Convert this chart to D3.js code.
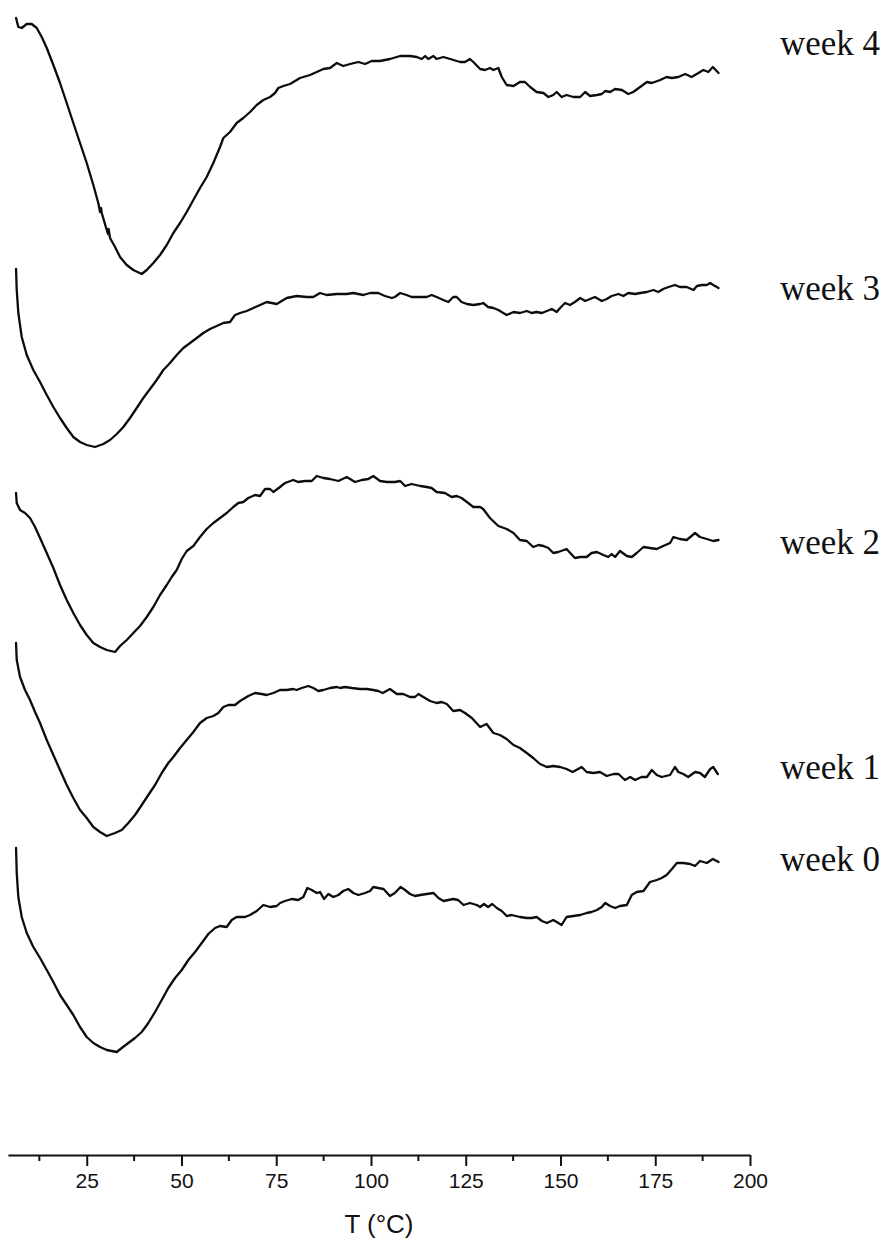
<!DOCTYPE html>
<html>
<head>
<meta charset="utf-8">
<script src="https://cdn.jsdelivr.net/npm/d3@7"></script>
<style>
  html, body { margin: 0; padding: 0; background: #fff; }
  svg { display: block; }
</style>
</head>
<body>
<svg id="chart" width="893" height="1242"></svg>
<script>
// DSC thermograms (endo down), curves shifted vertically for clarity.
// Each series: [temperature °C, heat flow (a.u., offset)]
const week4 = [
  [6.35,113.7],[6.95,112.8],[7.85,112.7],[9.17,113.1],[10.49,113.1],[11.81,112.7],[13.13,111.8],
  [14.45,110.7],[16.19,109.0],[17.95,107.2],[19.72,105.2],[21.46,103.2],[23.23,101.2],[25.0,99.2],
  [26.74,97.0],[28.05,95.2],[28.51,94.3],[28.78,94.7],[28.96,94.2],[30.28,92.5],[30.62,92.1],
  [30.76,92.6],[31.15,91.7],[32.47,90.8],[33.79,89.8],[35.55,89.0],[37.30,88.5],[39.51,88.1],
  [40.83,88.5],[42.57,89.2],[44.34,90.0],[46.11,91.0],[47.85,92.2],[49.62,93.2],[51.38,94.3],
  [53.13,95.5],[54.89,96.7],[56.65,97.8],[58.40,99.2],[60.17,100.8],[61.04,101.7],[62.81,102.3],
  [64.56,103.2],[66.31,103.7],[68.09,104.3],[69.85,105.0],[71.60,105.5],[73.36,105.8],[74.68,106.2],
  [75.55,106.7],[76.87,106.9],[78.64,107.1],[81.28,107.7],[83.92,108.0],[87.43,108.6],[89.20,108.7],
  [90.96,109.2],[92.68,108.9],[94.47,109.1],[96.67,109.3],[98.43,109.1],[100.2,109.4],[102.4,109.4],
  [105.0,109.6],[107.7,109.9],[110.3,109.9],[112.1,109.8],[113.4,109.6],[114.3,109.9],[115.1,109.6],
  [116.5,109.9],[117.3,109.6],[119.1,109.8],[120.9,109.6],[123.5,109.3],[124.8,109.3],[126.1,109.6],
  [127.0,109.3],[128.8,108.6],[130.1,108.5],[131.4,108.7],[132.3,108.5],[133.6,108.7],[134.5,107.8],
  [135.8,107.0],[137.6,106.9],[139.3,107.3],[140.6,107.3],[142.0,106.8],[143.7,106.3],[145.5,106.2],
  [146.8,105.8],[148.1,106.0],[149.0,106.3],[150.3,105.8],[151.6,106.0],[153.4,105.8],[155.2,105.8],
  [156.5,106.3],[157.8,105.9],[159.6,106.0],[160.9,106.1],[161.8,106.4],[163.1,106.3],[164.4,106.6],
  [166.2,106.5],[167.9,106.1],[169.2,106.3],[171.0,106.8],[172.8,107.3],[174.1,107.2],[176.3,107.5],
  [178.0,107.8],[179.4,107.7],[181.1,107.8],[182.9,108.1],[184.6,107.8],[186.4,108.2],[187.7,108.5],
  [189.0,108.3],[190.2,108.8],[191.7,108.2]
];

const week3 = [
  [6.35,88.6],[6.53,86.5],[6.95,84.2],[7.85,81.8],[9.17,80.0],[10.91,78.5],[12.68,77.3],[14.45,76.0],
  [16.19,74.8],[17.95,73.7],[19.72,72.7],[21.46,71.8],[23.23,71.3],[25.0,71.0],[27.19,70.8],[29.38,71.1],
  [31.15,71.5],[32.92,72.1],[34.66,72.8],[36.42,73.7],[38.19,74.7],[39.93,75.7],[41.70,76.6],[43.46,77.5],
  [45.21,78.5],[46.97,79.2],[48.74,80.0],[50.49,80.7],[52.26,81.2],[54.02,81.7],[55.76,82.2],[57.53,82.6],
  [59.29,82.9],[61.04,83.2],[62.81,83.3],[64.12,84.0],[65.45,84.2],[67.20,84.4],[68.96,84.7],[70.73,85.0],
  [72.49,85.3],[73.81,85.2],[75.13,85.1],[76.0,85.3],[77.76,85.7],[80.38,85.9],[83.04,85.8],[84.79,85.8],
  [86.56,86.2],[88.32,86.0],[90.96,86.1],[93.60,86.1],[95.34,86.2],[97.99,86.0],[99.75,86.2],[101.9,86.2],
  [103.7,85.9],[105.5,85.7],[106.3,85.8],[107.7,86.2],[109.4,86.0],[110.7,85.8],[113.0,85.8],[114.7,85.8],
  [116.0,86.0],[117.3,85.8],[119.1,85.5],[120.4,85.3],[121.7,85.8],[122.6,85.8],[123.9,85.3],[125.3,85.1],
  [127.0,85.0],[128.8,85.1],[129.6,85.2],[130.9,84.8],[132.3,84.7],[133.6,84.5],[134.9,84.2],[135.8,84.0],
  [137.6,84.3],[139.3,84.2],[141.1,84.4],[142.4,84.2],[143.7,84.3],[145.1,84.2],[146.4,84.4],[147.7,84.6],
  [149.0,84.3],[149.9,84.7],[151.2,85.2],[152.5,85.0],[153.8,85.3],[155.2,85.7],[156.5,85.4],[157.8,85.6],
  [159.1,85.8],[160.9,85.4],[162.2,85.6],[163.5,85.9],[165.3,86.1],[166.6,85.9],[167.9,86.2],[169.7,86.1],
  [171.0,86.2],[172.8,86.3],[174.5,86.5],[175.8,86.3],[177.1,86.6],[178.5,86.8],[180.2,87.0],[181.5,86.8],
  [183.3,86.8],[185.1,86.5],[186.0,86.9],[187.3,87.0],[188.6,87.0],[189.5,87.2],[190.3,87.0],[191.7,86.7]
];

const week2 = [
  [6.35,66.2],[6.53,65.2],[7.40,64.5],[8.72,64.2],[10.04,63.7],[11.36,62.8],[12.68,61.7],[14.45,60.2],
  [16.19,58.7],[17.95,57.0],[19.72,55.5],[21.46,54.2],[23.23,53.0],[25.0,52.0],[26.74,51.2],[28.51,50.8],
  [30.28,50.5],[32.47,50.3],[33.79,50.9],[35.55,51.5],[37.30,52.2],[39.06,52.9],[40.83,53.8],[42.57,54.8],
  [44.34,56.0],[46.11,57.0],[47.42,57.8],[48.74,58.5],[50.07,59.6],[51.38,60.4],[53.13,60.9],[54.89,61.8],
  [56.65,62.6],[58.40,63.2],[60.17,63.7],[61.93,64.2],[63.67,64.8],[64.99,65.2],[66.31,65.3],[67.63,65.7],
  [69.41,66.0],[70.73,65.9],[72.04,66.6],[73.36,66.6],[74.24,66.3],[76.0,66.8],[77.32,67.2],[79.49,67.5],
  [80.80,67.3],[82.60,67.4],[84.37,67.4],[85.68,67.9],[87.43,67.7],[89.20,67.6],[91.39,67.4],[93.60,67.8],
  [95.79,67.3],[97.57,67.5],[99.31,67.6],[100.6,67.9],[102.4,67.4],[104.2,67.3],[106.3,67.3],[107.7,67.4],
  [109.0,66.9],[110.7,67.1],[113.0,66.9],[114.7,66.8],[116.0,66.7],[117.3,66.3],[119.5,66.2],[121.3,65.8],
  [122.6,65.9],[123.9,65.7],[125.3,65.3],[127.0,64.8],[128.8,64.8],[129.6,64.6],[131.4,63.7],[133.6,62.9],
  [135.8,62.6],[137.6,62.2],[139.3,61.5],[141.1,61.4],[142.8,60.8],[144.2,61.0],[145.5,60.9],[146.8,60.7],
  [148.1,60.2],[149.4,60.3],[151.6,60.6],[153.8,59.7],[155.2,59.8],[156.9,59.8],[158.2,60.2],[159.6,60.3],
  [161.3,60.0],[162.6,59.8],[163.5,60.1],[164.4,59.8],[165.7,60.4],[167.5,59.9],[168.8,59.8],[170.1,60.2],
  [171.9,60.8],[173.6,60.7],[175.4,60.6],[177.1,60.9],[178.9,61.2],[179.8,61.8],[181.5,61.6],[183.3,61.5],
  [185.5,62.2],[186.8,61.8],[188.6,61.6],[190.3,61.4],[191.7,61.5]
];

const week1 = [
  [6.35,51.2],[6.53,49.5],[7.40,47.8],[8.72,46.5],[10.04,45.5],[11.36,44.3],[12.68,43.2],[14.45,41.5],
  [16.19,40.0],[17.95,38.5],[19.72,37.0],[21.46,35.7],[23.23,34.5],[25.0,33.7],[26.74,32.8],[28.51,32.3],
  [30.28,31.9],[32.47,32.2],[34.24,32.5],[35.97,33.2],[37.74,34.0],[39.51,35.0],[41.25,36.0],[43.02,37.0],
  [44.79,38.2],[46.52,39.2],[47.85,39.8],[49.62,40.7],[51.38,41.5],[53.13,42.3],[54.89,43.2],[56.65,43.7],
  [58.40,43.9],[59.72,44.2],[61.04,44.8],[62.35,45.0],[64.12,45.0],[65.45,45.4],[67.63,45.9],[69.41,46.2],
  [71.17,46.1],[72.49,46.0],[74.24,46.2],[76.0,46.5],[77.76,46.5],[79.49,46.6],[80.38,46.5],[81.73,46.7],
  [83.47,46.9],[84.79,46.7],[86.10,46.4],[87.43,46.5],[89.20,46.7],[90.96,46.8],[91.83,46.7],[93.15,46.8],
  [94.92,46.7],[97.12,46.6],[98.88,46.6],[100.6,46.5],[101.9,46.4],[103.1,46.2],[105.0,46.6],[106.8,46.1],
  [108.5,46.1],[110.3,45.8],[111.6,45.8],[112.5,46.1],[113.8,45.8],[115.6,45.4],[117.3,45.2],[118.7,45.3],
  [120.0,45.1],[121.7,44.4],[123.5,44.5],[124.8,44.2],[126.6,43.7],[128.8,42.8],[130.5,43.1],[132.3,42.2],
  [134.0,42.0],[135.8,41.6],[137.6,41.0],[139.3,40.7],[141.1,40.2],[142.8,39.7],[144.6,39.1],[146.4,38.8],
  [148.1,38.9],[149.9,38.8],[151.6,38.6],[153.2,38.3],[155.6,38.8],[156.9,38.3],[158.7,38.2],[160.4,38.3],
  [162.2,37.9],[164.0,38.1],[165.3,38.1],[167.0,37.5],[168.4,37.8],[169.7,37.5],[171.4,37.8],[172.8,37.8],
  [174.1,38.5],[175.4,38.0],[176.7,37.8],[178.9,38.0],[180.2,38.8],[181.1,38.3],[182.4,38.1],[183.7,37.8],
  [185.5,38.3],[186.8,38.2],[188.1,37.8],[189.5,38.6],[190.3,38.8],[191.5,38.1]
];

const week0 = [
  [6.35,30.7],[6.53,28.2],[6.95,25.8],[7.85,23.8],[9.17,22.2],[10.91,20.8],[12.68,19.7],[14.45,18.5],
  [16.19,17.3],[17.95,16.0],[19.72,15.0],[21.46,14.0],[23.23,12.8],[25.0,11.8],[26.74,11.2],[28.51,10.8],
  [30.28,10.5],[32.92,10.3],[34.24,10.7],[35.97,11.2],[37.74,11.7],[39.51,12.3],[41.25,13.2],[43.02,14.3],
  [44.79,15.5],[46.52,16.7],[48.30,17.7],[50.07,18.5],[51.81,19.5],[53.58,20.3],[55.34,21.2],[57.08,22.1],
  [58.85,22.7],[60.17,22.9],[61.93,22.8],[63.25,23.5],[64.56,23.8],[66.76,23.8],[68.09,24.0],[69.85,24.4],
  [71.60,25.0],[73.36,24.8],[75.13,24.9],[76.0,25.2],[77.32,25.4],[79.09,25.6],[80.80,25.5],[82.15,25.8],
  [83.20,26.7],[84.37,26.5],[85.68,26.2],[86.56,26.3],[87.61,25.6],[88.75,26.1],[90.07,25.8],[91.39,26.0],
  [92.68,26.4],[94.00,26.6],[95.34,26.2],[96.67,26.0],[98.43,26.2],[99.75,26.4],[100.6,26.8],[101.9,26.7],
  [103.3,26.6],[105.0,25.9],[106.3,26.2],[107.8,26.8],[109.0,26.5],[110.3,26.1],[111.6,25.9],[113.0,26.0],
  [114.7,26.1],[116.5,26.2],[117.8,25.7],[119.1,25.4],[120.4,25.5],[121.7,25.6],[123.0,25.5],[124.4,25.0],
  [126.1,25.2],[127.9,25.0],[128.8,24.8],[129.8,25.1],[130.9,24.8],[132.0,25.1],[133.2,24.7],[134.5,24.4],
  [135.8,23.9],[137.1,24.0],[139.3,23.8],[141.1,23.7],[142.4,23.7],[143.7,23.8],[145.1,23.4],[146.4,23.2],
  [148.1,23.5],[149.0,23.3],[150.3,23.0],[151.6,23.8],[153.4,23.9],[155.2,24.0],[156.9,24.2],[158.2,24.3],
  [159.6,24.5],[160.9,24.8],[161.8,25.2],[163.1,24.9],[164.4,24.7],[165.7,24.9],[167.5,25.0],[168.8,26.0],
  [170.1,26.3],[171.9,26.4],[173.6,27.3],[175.4,27.5],[176.7,27.7],[178.0,28.0],[179.4,28.6],[180.7,29.2],
  [182.4,29.2],[184.2,29.1],[185.5,28.9],[186.8,29.4],[188.6,29.2],[190.2,29.6],[191.7,29.3]
];

const seriesNames = ["week 4", "week 3", "week 2", "week 1", "week 0"];
const seriesData = [week4, week3, week2, week1, week0];

const majorTicks = [25, 50, 75, 100, 125, 150, 175, 200];
const minorTicks = [12.5, 37.5, 62.5, 87.5, 112.5, 137.5, 162.5, 187.5];
const xTitle = "T (°C)";

// ---- layout ----
const svg = d3.select("#chart");
const axisY = 1155;
const x = d3.scaleLinear().domain([4.2, 200]).range([7.9, 750]);
const y = d3.scaleLinear().domain([0, 115.5]).range([axisY, 0]);

// label baselines, pixel offsets from each curve's last point
const labelDy = [-18, 12, 14, 5, 9];

const line = d3.line()
  .x(d => x(d[0]))
  .y(d => y(d[1]))
  .curve(d3.curveLinear);

const curves = svg.append("g");
seriesData.forEach((s, i) => {
  curves.append("path")
    .datum(s)
    .attr("fill", "none")
    .attr("stroke", "#0c0c0c")
    .attr("stroke-width", 2.3)
    .attr("stroke-linejoin", "round")
    .attr("stroke-linecap", "round")
    .attr("d", line);

  const last = s[s.length - 1];
  curves.append("text")
    .attr("x", 780)
    .attr("y", y(last[1]) + labelDy[i])
    .attr("font-family", "'Liberation Serif', 'Times New Roman', serif")
    .attr("font-size", 35)
    .attr("fill", "#111")
    .text(seriesNames[i]);
});

// ---- x axis ----
const axisG = svg.append("g").attr("transform", `translate(0,${axisY})`);
axisG.call(
  d3.axisBottom(x)
    .tickValues(majorTicks)
    .tickSize(11)
    .tickSizeOuter(0)
    .tickPadding(7)
    .tickFormat(d3.format("d"))
);
axisG.select(".domain").attr("stroke", "#111").attr("stroke-width", 2);
axisG.selectAll(".tick line").attr("stroke", "#111").attr("stroke-width", 2);
axisG.selectAll(".tick text")
  .attr("fill", "#111")
  .attr("font-family", "'Liberation Sans', Arial, sans-serif")
  .attr("font-size", 21);

axisG.selectAll(".minor")
  .data(minorTicks)
  .enter().append("line")
  .attr("class", "minor")
  .attr("x1", d => x(d)).attr("x2", d => x(d))
  .attr("y1", 0).attr("y2", 6)
  .attr("stroke", "#111").attr("stroke-width", 2);

svg.append("text")
  .attr("x", x(100) + 8)
  .attr("y", 1233)
  .attr("text-anchor", "middle")
  .attr("font-family", "'Liberation Sans', Arial, sans-serif")
  .attr("font-size", 26)
  .attr("fill", "#111")
  .text(xTitle);
</script>
</body>
</html>
